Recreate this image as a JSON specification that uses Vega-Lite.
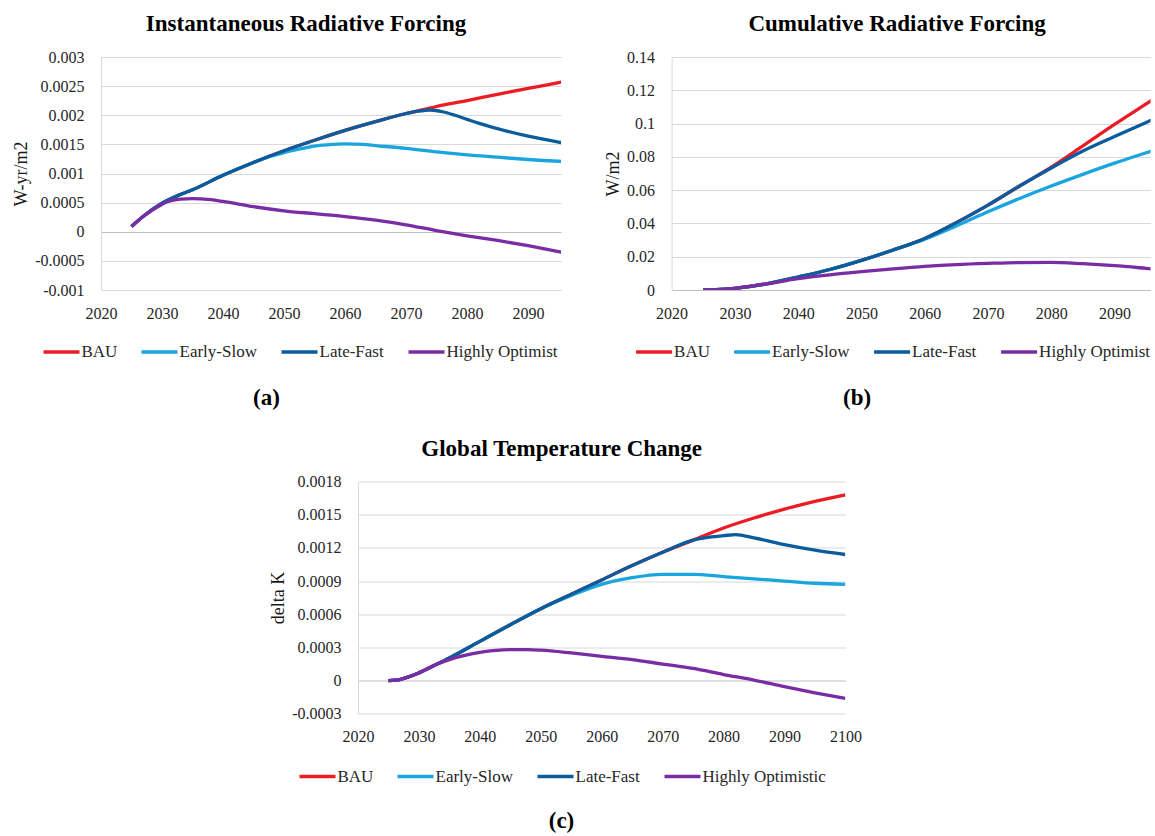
{
  "$schema": "https://vega.github.io/schema/vega-lite/v6.json",
  "background": "white",
  "padding": {"left": 12, "top": 13, "right": 0, "bottom": 0},
  "config": {
    "view": {"stroke": null},
    "font": "Liberation Serif",
    "axis": {"labelFont": "Liberation Serif", "labelFontSize": 16, "labelColor": "#262626", "titleFont": "Liberation Serif", "titleColor": "#1a1a1a", "ticks": false, "labelPadding": 15},
    "axisX": {"grid": false, "domain": false, "labelFlush": false, "labelOverlap": false, "titleFontSize": 23, "titleFontWeight": "bold", "titleColor": "#000", "titleBaseline": "middle", "titleAlign": "center"},
    "axisY": {"grid": true, "gridWidth": 1, "domainColor": "#d9d9d9", "domainWidth": 1, "labelPadding": 17, "titleFontSize": 18, "titleFontWeight": "normal", "titleAngle": -90, "titleBaseline": "bottom", "titleAlign": "center"},
    "legend": {"direction": "horizontal", "columns": 4, "symbolType": "stroke", "symbolSize": 1296, "symbolStrokeWidth": 3.3, "labelFont": "Liberation Serif", "labelFontSize": 17, "labelColor": "#262626", "columnPadding": 17, "labelOffset": 0, "labelLimit": 400, "padding": 0},
    "title": {"font": "Liberation Serif", "fontSize": 23, "fontWeight": "bold", "color": "#000", "offset": 13, "frame": "group", "anchor": "middle"}
  },
  "datasets": {
    "a": [
      {"scenario": "BAU", "year": 2025, "value": 0.00009},
      {"scenario": "BAU", "year": 2027, "value": 0.00027},
      {"scenario": "BAU", "year": 2030, "value": 0.00049},
      {"scenario": "BAU", "year": 2033, "value": 0.00064},
      {"scenario": "BAU", "year": 2035, "value": 0.00072},
      {"scenario": "BAU", "year": 2040, "value": 0.00097},
      {"scenario": "BAU", "year": 2045, "value": 0.00119},
      {"scenario": "BAU", "year": 2050, "value": 0.00139},
      {"scenario": "BAU", "year": 2055, "value": 0.00157},
      {"scenario": "BAU", "year": 2060, "value": 0.00174},
      {"scenario": "BAU", "year": 2065, "value": 0.00189},
      {"scenario": "BAU", "year": 2070, "value": 0.00203},
      {"scenario": "BAU", "year": 2073, "value": 0.0021},
      {"scenario": "BAU", "year": 2075, "value": 0.00215},
      {"scenario": "BAU", "year": 2080, "value": 0.00225},
      {"scenario": "BAU", "year": 2085, "value": 0.00236},
      {"scenario": "BAU", "year": 2090, "value": 0.00246},
      {"scenario": "BAU", "year": 2095, "value": 0.00256},
      {"scenario": "BAU", "year": 2100, "value": 0.00266},
      {"scenario": "Early-Slow", "year": 2025, "value": 0.00009},
      {"scenario": "Early-Slow", "year": 2027, "value": 0.00027},
      {"scenario": "Early-Slow", "year": 2030, "value": 0.00049},
      {"scenario": "Early-Slow", "year": 2033, "value": 0.00064},
      {"scenario": "Early-Slow", "year": 2035, "value": 0.00072},
      {"scenario": "Early-Slow", "year": 2040, "value": 0.00097},
      {"scenario": "Early-Slow", "year": 2045, "value": 0.00119},
      {"scenario": "Early-Slow", "year": 2048, "value": 0.0013},
      {"scenario": "Early-Slow", "year": 2050, "value": 0.00136},
      {"scenario": "Early-Slow", "year": 2053, "value": 0.00143},
      {"scenario": "Early-Slow", "year": 2055, "value": 0.00147},
      {"scenario": "Early-Slow", "year": 2058, "value": 0.0015},
      {"scenario": "Early-Slow", "year": 2060, "value": 0.00151},
      {"scenario": "Early-Slow", "year": 2063, "value": 0.0015},
      {"scenario": "Early-Slow", "year": 2065, "value": 0.00148},
      {"scenario": "Early-Slow", "year": 2070, "value": 0.00143},
      {"scenario": "Early-Slow", "year": 2075, "value": 0.00137},
      {"scenario": "Early-Slow", "year": 2080, "value": 0.00132},
      {"scenario": "Early-Slow", "year": 2085, "value": 0.00128},
      {"scenario": "Early-Slow", "year": 2090, "value": 0.00124},
      {"scenario": "Early-Slow", "year": 2095, "value": 0.00121},
      {"scenario": "Early-Slow", "year": 2100, "value": 0.00119},
      {"scenario": "Late-Fast", "year": 2025, "value": 0.00009},
      {"scenario": "Late-Fast", "year": 2027, "value": 0.00027},
      {"scenario": "Late-Fast", "year": 2030, "value": 0.00049},
      {"scenario": "Late-Fast", "year": 2033, "value": 0.00064},
      {"scenario": "Late-Fast", "year": 2035, "value": 0.00072},
      {"scenario": "Late-Fast", "year": 2040, "value": 0.00097},
      {"scenario": "Late-Fast", "year": 2045, "value": 0.00119},
      {"scenario": "Late-Fast", "year": 2050, "value": 0.00139},
      {"scenario": "Late-Fast", "year": 2055, "value": 0.00157},
      {"scenario": "Late-Fast", "year": 2060, "value": 0.00174},
      {"scenario": "Late-Fast", "year": 2065, "value": 0.00189},
      {"scenario": "Late-Fast", "year": 2070, "value": 0.00203},
      {"scenario": "Late-Fast", "year": 2072, "value": 0.00207},
      {"scenario": "Late-Fast", "year": 2074, "value": 0.00209},
      {"scenario": "Late-Fast", "year": 2076, "value": 0.00206},
      {"scenario": "Late-Fast", "year": 2078, "value": 0.002},
      {"scenario": "Late-Fast", "year": 2080, "value": 0.00193},
      {"scenario": "Late-Fast", "year": 2082, "value": 0.00186},
      {"scenario": "Late-Fast", "year": 2085, "value": 0.00177},
      {"scenario": "Late-Fast", "year": 2090, "value": 0.00164},
      {"scenario": "Late-Fast", "year": 2095, "value": 0.00154},
      {"scenario": "Late-Fast", "year": 2100, "value": 0.00146},
      {"scenario": "Highly Optimistic", "year": 2025, "value": 0.00009},
      {"scenario": "Highly Optimistic", "year": 2027, "value": 0.00027},
      {"scenario": "Highly Optimistic", "year": 2029, "value": 0.00041},
      {"scenario": "Highly Optimistic", "year": 2031, "value": 0.00052},
      {"scenario": "Highly Optimistic", "year": 2033, "value": 0.00056},
      {"scenario": "Highly Optimistic", "year": 2035, "value": 0.00057},
      {"scenario": "Highly Optimistic", "year": 2038, "value": 0.00055},
      {"scenario": "Highly Optimistic", "year": 2040, "value": 0.00052},
      {"scenario": "Highly Optimistic", "year": 2045, "value": 0.00043},
      {"scenario": "Highly Optimistic", "year": 2050, "value": 0.00036},
      {"scenario": "Highly Optimistic", "year": 2055, "value": 0.00031},
      {"scenario": "Highly Optimistic", "year": 2060, "value": 0.00026},
      {"scenario": "Highly Optimistic", "year": 2065, "value": 0.0002},
      {"scenario": "Highly Optimistic", "year": 2070, "value": 0.00012},
      {"scenario": "Highly Optimistic", "year": 2075, "value": 0.00002},
      {"scenario": "Highly Optimistic", "year": 2080, "value": -0.00007},
      {"scenario": "Highly Optimistic", "year": 2085, "value": -0.00015},
      {"scenario": "Highly Optimistic", "year": 2090, "value": -0.00024},
      {"scenario": "Highly Optimistic", "year": 2095, "value": -0.00034},
      {"scenario": "Highly Optimistic", "year": 2100, "value": -0.00043}
    ],
    "b": [
      {"scenario": "BAU", "year": 2025, "value": 0},
      {"scenario": "BAU", "year": 2027, "value": 0.0002},
      {"scenario": "BAU", "year": 2030, "value": 0.001},
      {"scenario": "BAU", "year": 2035, "value": 0.0037},
      {"scenario": "BAU", "year": 2040, "value": 0.0078},
      {"scenario": "BAU", "year": 2045, "value": 0.0123},
      {"scenario": "BAU", "year": 2050, "value": 0.0178},
      {"scenario": "BAU", "year": 2055, "value": 0.024},
      {"scenario": "BAU", "year": 2060, "value": 0.031},
      {"scenario": "BAU", "year": 2065, "value": 0.0405},
      {"scenario": "BAU", "year": 2070, "value": 0.051},
      {"scenario": "BAU", "year": 2075, "value": 0.0625},
      {"scenario": "BAU", "year": 2080, "value": 0.0738},
      {"scenario": "BAU", "year": 2085, "value": 0.0866},
      {"scenario": "BAU", "year": 2090, "value": 0.0995},
      {"scenario": "BAU", "year": 2095, "value": 0.1118},
      {"scenario": "BAU", "year": 2100, "value": 0.124},
      {"scenario": "Early-Slow", "year": 2025, "value": 0},
      {"scenario": "Early-Slow", "year": 2027, "value": 0.0002},
      {"scenario": "Early-Slow", "year": 2030, "value": 0.001},
      {"scenario": "Early-Slow", "year": 2035, "value": 0.0037},
      {"scenario": "Early-Slow", "year": 2040, "value": 0.0078},
      {"scenario": "Early-Slow", "year": 2045, "value": 0.0123},
      {"scenario": "Early-Slow", "year": 2050, "value": 0.0178},
      {"scenario": "Early-Slow", "year": 2055, "value": 0.024},
      {"scenario": "Early-Slow", "year": 2060, "value": 0.0305},
      {"scenario": "Early-Slow", "year": 2065, "value": 0.0385},
      {"scenario": "Early-Slow", "year": 2070, "value": 0.047},
      {"scenario": "Early-Slow", "year": 2075, "value": 0.055},
      {"scenario": "Early-Slow", "year": 2080, "value": 0.0625},
      {"scenario": "Early-Slow", "year": 2085, "value": 0.0695},
      {"scenario": "Early-Slow", "year": 2090, "value": 0.0762},
      {"scenario": "Early-Slow", "year": 2095, "value": 0.0825},
      {"scenario": "Early-Slow", "year": 2100, "value": 0.0885},
      {"scenario": "Late-Fast", "year": 2025, "value": 0},
      {"scenario": "Late-Fast", "year": 2027, "value": 0.0002},
      {"scenario": "Late-Fast", "year": 2030, "value": 0.001},
      {"scenario": "Late-Fast", "year": 2035, "value": 0.0037},
      {"scenario": "Late-Fast", "year": 2040, "value": 0.0078},
      {"scenario": "Late-Fast", "year": 2045, "value": 0.0123},
      {"scenario": "Late-Fast", "year": 2050, "value": 0.0178},
      {"scenario": "Late-Fast", "year": 2055, "value": 0.024},
      {"scenario": "Late-Fast", "year": 2060, "value": 0.031},
      {"scenario": "Late-Fast", "year": 2065, "value": 0.0405},
      {"scenario": "Late-Fast", "year": 2070, "value": 0.051},
      {"scenario": "Late-Fast", "year": 2075, "value": 0.0625},
      {"scenario": "Late-Fast", "year": 2080, "value": 0.0733},
      {"scenario": "Late-Fast", "year": 2085, "value": 0.0835},
      {"scenario": "Late-Fast", "year": 2090, "value": 0.0922},
      {"scenario": "Late-Fast", "year": 2095, "value": 0.1007},
      {"scenario": "Late-Fast", "year": 2100, "value": 0.109},
      {"scenario": "Highly Optimistic", "year": 2025, "value": 0},
      {"scenario": "Highly Optimistic", "year": 2027, "value": 0.0002},
      {"scenario": "Highly Optimistic", "year": 2030, "value": 0.001},
      {"scenario": "Highly Optimistic", "year": 2035, "value": 0.0037},
      {"scenario": "Highly Optimistic", "year": 2040, "value": 0.0068},
      {"scenario": "Highly Optimistic", "year": 2045, "value": 0.0091},
      {"scenario": "Highly Optimistic", "year": 2050, "value": 0.011},
      {"scenario": "Highly Optimistic", "year": 2055, "value": 0.0127},
      {"scenario": "Highly Optimistic", "year": 2060, "value": 0.0142},
      {"scenario": "Highly Optimistic", "year": 2065, "value": 0.0153},
      {"scenario": "Highly Optimistic", "year": 2070, "value": 0.016},
      {"scenario": "Highly Optimistic", "year": 2075, "value": 0.0165},
      {"scenario": "Highly Optimistic", "year": 2080, "value": 0.0166},
      {"scenario": "Highly Optimistic", "year": 2085, "value": 0.0158},
      {"scenario": "Highly Optimistic", "year": 2090, "value": 0.0146},
      {"scenario": "Highly Optimistic", "year": 2095, "value": 0.013},
      {"scenario": "Highly Optimistic", "year": 2100, "value": 0.0113}
    ],
    "c": [
      {"scenario": "BAU", "year": 2025, "value": 0},
      {"scenario": "BAU", "year": 2027, "value": 0.000012},
      {"scenario": "BAU", "year": 2030, "value": 0.00007},
      {"scenario": "BAU", "year": 2033, "value": 0.00015},
      {"scenario": "BAU", "year": 2035, "value": 0.000205},
      {"scenario": "BAU", "year": 2040, "value": 0.000355},
      {"scenario": "BAU", "year": 2045, "value": 0.000505},
      {"scenario": "BAU", "year": 2050, "value": 0.00065},
      {"scenario": "BAU", "year": 2055, "value": 0.00078},
      {"scenario": "BAU", "year": 2060, "value": 0.00091},
      {"scenario": "BAU", "year": 2065, "value": 0.00104},
      {"scenario": "BAU", "year": 2070, "value": 0.00116},
      {"scenario": "BAU", "year": 2075, "value": 0.00127},
      {"scenario": "BAU", "year": 2080, "value": 0.00138},
      {"scenario": "BAU", "year": 2085, "value": 0.00147},
      {"scenario": "BAU", "year": 2090, "value": 0.00155},
      {"scenario": "BAU", "year": 2095, "value": 0.00162},
      {"scenario": "BAU", "year": 2100, "value": 0.00168},
      {"scenario": "Early-Slow", "year": 2025, "value": 0},
      {"scenario": "Early-Slow", "year": 2027, "value": 0.000012},
      {"scenario": "Early-Slow", "year": 2030, "value": 0.00007},
      {"scenario": "Early-Slow", "year": 2033, "value": 0.00015},
      {"scenario": "Early-Slow", "year": 2035, "value": 0.000205},
      {"scenario": "Early-Slow", "year": 2040, "value": 0.000355},
      {"scenario": "Early-Slow", "year": 2045, "value": 0.000505},
      {"scenario": "Early-Slow", "year": 2050, "value": 0.00065},
      {"scenario": "Early-Slow", "year": 2055, "value": 0.00077},
      {"scenario": "Early-Slow", "year": 2060, "value": 0.00087},
      {"scenario": "Early-Slow", "year": 2065, "value": 0.00093},
      {"scenario": "Early-Slow", "year": 2070, "value": 0.00096},
      {"scenario": "Early-Slow", "year": 2075, "value": 0.00096},
      {"scenario": "Early-Slow", "year": 2080, "value": 0.00094},
      {"scenario": "Early-Slow", "year": 2085, "value": 0.00092},
      {"scenario": "Early-Slow", "year": 2090, "value": 0.0009},
      {"scenario": "Early-Slow", "year": 2095, "value": 0.00088},
      {"scenario": "Early-Slow", "year": 2100, "value": 0.00087},
      {"scenario": "Late-Fast", "year": 2025, "value": 0},
      {"scenario": "Late-Fast", "year": 2027, "value": 0.000012},
      {"scenario": "Late-Fast", "year": 2030, "value": 0.00007},
      {"scenario": "Late-Fast", "year": 2033, "value": 0.00015},
      {"scenario": "Late-Fast", "year": 2035, "value": 0.000205},
      {"scenario": "Late-Fast", "year": 2040, "value": 0.000355},
      {"scenario": "Late-Fast", "year": 2045, "value": 0.000505},
      {"scenario": "Late-Fast", "year": 2050, "value": 0.00065},
      {"scenario": "Late-Fast", "year": 2055, "value": 0.00078},
      {"scenario": "Late-Fast", "year": 2060, "value": 0.00091},
      {"scenario": "Late-Fast", "year": 2065, "value": 0.00104},
      {"scenario": "Late-Fast", "year": 2070, "value": 0.00116},
      {"scenario": "Late-Fast", "year": 2075, "value": 0.00127},
      {"scenario": "Late-Fast", "year": 2078, "value": 0.0013},
      {"scenario": "Late-Fast", "year": 2080, "value": 0.00131},
      {"scenario": "Late-Fast", "year": 2082, "value": 0.00132},
      {"scenario": "Late-Fast", "year": 2085, "value": 0.00129},
      {"scenario": "Late-Fast", "year": 2090, "value": 0.00123},
      {"scenario": "Late-Fast", "year": 2095, "value": 0.00118},
      {"scenario": "Late-Fast", "year": 2100, "value": 0.00114},
      {"scenario": "Highly Optimistic", "year": 2025, "value": 0},
      {"scenario": "Highly Optimistic", "year": 2027, "value": 0.000012},
      {"scenario": "Highly Optimistic", "year": 2030, "value": 0.00007},
      {"scenario": "Highly Optimistic", "year": 2033, "value": 0.00015},
      {"scenario": "Highly Optimistic", "year": 2035, "value": 0.00019},
      {"scenario": "Highly Optimistic", "year": 2040, "value": 0.000255},
      {"scenario": "Highly Optimistic", "year": 2045, "value": 0.00028},
      {"scenario": "Highly Optimistic", "year": 2048, "value": 0.00028},
      {"scenario": "Highly Optimistic", "year": 2050, "value": 0.000275},
      {"scenario": "Highly Optimistic", "year": 2055, "value": 0.00025},
      {"scenario": "Highly Optimistic", "year": 2060, "value": 0.00022},
      {"scenario": "Highly Optimistic", "year": 2065, "value": 0.00019},
      {"scenario": "Highly Optimistic", "year": 2070, "value": 0.00015},
      {"scenario": "Highly Optimistic", "year": 2075, "value": 0.00011},
      {"scenario": "Highly Optimistic", "year": 2080, "value": 0.000055},
      {"scenario": "Highly Optimistic", "year": 2085, "value": 0.000005},
      {"scenario": "Highly Optimistic", "year": 2090, "value": -0.000055},
      {"scenario": "Highly Optimistic", "year": 2095, "value": -0.00011},
      {"scenario": "Highly Optimistic", "year": 2100, "value": -0.00016}
    ]
  },
  "vconcat": [
    {
      "hconcat": [
        {
          "width": 460,
          "height": 233,
          "data": {"name": "a"},
          "title": {"text": "Instantaneous Radiative Forcing", "dx": -25},
          "mark": {"type": "line", "clip": true, "interpolate": "monotone", "strokeWidth": 3.3},
          "encoding": {
            "x": {"field": "year", "type": "quantitative", "scale": {"domain": [2020, 2095.4], "nice": false, "zero": false},
                  "axis": {"values": [2020, 2030, 2040, 2050, 2060, 2070, 2080, 2090], "format": "d", "title": "(a)", "titleX": 165, "titleY": 107}},
            "y": {"field": "value", "type": "quantitative", "scale": {"domain": [-0.001, 0.003], "nice": false, "zero": false},
                  "axis": {"values": [-0.001, -0.0005, 0, 0.0005, 0.001, 0.0015, 0.002, 0.0025, 0.003], "format": "~g", "labelExpr": "replace(datum.label, '−', '-')", "title": "W-yr/m2", "titleX": -71, "titleY": 116.5,
                           "gridColor": {"condition": {"test": "datum.value === 0", "value": "#bfbfbf"}, "value": "#d9d9d9"}}},
            "color": {"field": "scenario", "type": "nominal",
                      "scale": {"domain": ["BAU", "Early-Slow", "Late-Fast", "Highly Optimistic"], "range": ["#ec1c24", "#1ba5de", "#0b5c9c", "#7a2ca5"]},
                      "legend": {"orient": "none", "legendX": -59.5, "legendY": 275, "title": null, "labelExpr": "datum.label == 'Highly Optimistic' ? 'Highly Optimist' : datum.label"}}
          }
        },
        {
          "width": 479,
          "height": 233,
          "data": {"name": "b"},
          "title": {"text": "Cumulative Radiative Forcing", "dx": -14},
          "mark": {"type": "line", "clip": true, "interpolate": "monotone", "strokeWidth": 3.3},
          "encoding": {
            "x": {"field": "year", "type": "quantitative", "scale": {"domain": [2020, 2095.7], "nice": false, "zero": false},
                  "axis": {"values": [2020, 2030, 2040, 2050, 2060, 2070, 2080, 2090], "format": "d", "title": "(b)", "titleX": 185, "titleY": 107}},
            "y": {"field": "value", "type": "quantitative", "scale": {"domain": [0, 0.14], "nice": false, "zero": false},
                  "axis": {"values": [0, 0.02, 0.04, 0.06, 0.08, 0.1, 0.12, 0.14], "format": "~g", "title": "W/m2", "titleX": -49, "titleY": 116.5,
                           "gridColor": {"condition": {"test": "datum.value === 0", "value": "#bfbfbf"}, "value": "#d9d9d9"}}},
            "color": {"field": "scenario", "type": "nominal",
                      "scale": {"domain": ["BAU", "Early-Slow", "Late-Fast", "Highly Optimistic"], "range": ["#ec1c24", "#1ba5de", "#0b5c9c", "#7a2ca5"]},
                      "legend": {"orient": "none", "legendX": -37.5, "legendY": 275, "title": null, "labelExpr": "datum.label == 'Highly Optimistic' ? 'Highly Optimist' : datum.label"}}
          }
        }
      ],
      "spacing": 110.6,
      "bounds": "flush",
      "resolve": {"scale": {"color": "independent"}, "legend": {"color": "independent"}}
    },
    {
      "hconcat": [
        {
          "width": 256.8,
          "height": 232.3,
          "data": {"values": []},
          "mark": {"type": "point", "opacity": 0}
        },
        {
          "width": 487.4,
          "height": 232.3,
          "data": {"name": "c"},
          "title": {"text": "Global Temperature Change", "dx": -40},
          "mark": {"type": "line", "clip": true, "interpolate": "monotone", "strokeWidth": 3.3},
          "encoding": {
            "x": {"field": "year", "type": "quantitative", "scale": {"domain": [2020, 2100], "nice": false, "zero": false},
                  "axis": {"values": [2020, 2030, 2040, 2050, 2060, 2070, 2080, 2090, 2100], "format": "d", "title": "(c)", "titleX": 203, "titleY": 106.5}},
            "y": {"field": "value", "type": "quantitative", "scale": {"domain": [-0.0003, 0.0018], "nice": false, "zero": false},
                  "axis": {"values": [-0.0003, 0, 0.0003, 0.0006, 0.0009, 0.0012, 0.0015, 0.0018], "format": "~g", "labelExpr": "replace(datum.label, '−', '-')", "title": "delta K", "titleX": -71, "titleY": 116,
                           "gridColor": {"condition": {"test": "datum.value === 0", "value": "#bfbfbf"}, "value": "#d9d9d9"}}},
            "color": {"field": "scenario", "type": "nominal",
                      "scale": {"domain": ["BAU", "Early-Slow", "Late-Fast", "Highly Optimistic"], "range": ["#ec1c24", "#1ba5de", "#0b5c9c", "#7a2ca5"]},
                      "legend": {"orient": "none", "legendX": -60.5, "legendY": 275, "title": null}}
          }
        }
      ],
      "spacing": 0,
      "bounds": "flush",
      "resolve": {"scale": {"color": "independent"}, "legend": {"color": "independent"}}
    }
  ],
  "spacing": 28.5,
  "bounds": "full",
  "resolve": {"scale": {"color": "independent"}, "legend": {"color": "independent"}}
}
